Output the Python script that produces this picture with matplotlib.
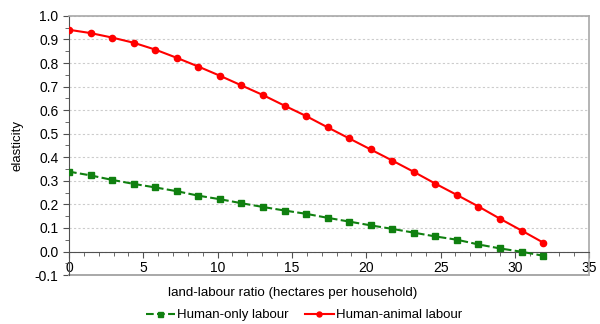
import matplotlib

matplotlib.use("Agg")

import matplotlib.pyplot as plt
import numpy as np
from matplotlib.ticker import MultipleLocator

plt.rcParams["font.family"] = ["Liberation Sans", "DejaVu Sans"]

# land-labour ratio (hectares per household), 23 evaluation points
land_ratio = [0.0, 1.45, 2.9, 4.35, 5.8, 7.25, 8.7, 10.15, 11.6, 13.05, 14.5, 15.95,
              17.4, 18.85, 20.3, 21.75, 23.2, 24.65, 26.1, 27.55, 29.0, 30.45, 31.9]

human_only = [0.339, 0.323, 0.304, 0.287, 0.272, 0.256, 0.237, 0.222, 0.205, 0.189,
              0.174, 0.160, 0.143, 0.127, 0.111, 0.096, 0.080, 0.064, 0.050, 0.030,
              0.013, -0.001, -0.018]

human_animal = [0.941, 0.927, 0.908, 0.886, 0.857, 0.822, 0.785, 0.746, 0.705, 0.664,
                0.619, 0.575, 0.527, 0.480, 0.433, 0.386, 0.338, 0.288, 0.240, 0.191,
                0.139, 0.089, 0.038]

GREEN = "#108010"
RED = "#ff0000"
BORDER = "#a8a8a8"

fig = plt.figure(figsize=(6.0, 3.24), dpi=100)
ax = fig.add_axes([0.115, 0.151, 0.867, 0.800])

ax.plot(land_ratio, human_only, color=GREEN, ls="--", lw=1.5, marker="s", ms=4.5,
        label="Human-only labour", zorder=3)
ax.plot(land_ratio, human_animal, color=RED, ls="-", lw=1.5, marker="o", ms=4.5,
        label="Human-animal labour", zorder=3)

ax.set_xlim(0, 35)
ax.set_ylim(-0.1, 1.0)
ax.xaxis.set_major_locator(MultipleLocator(5))
ax.xaxis.set_minor_locator(MultipleLocator(1))
ax.yaxis.set_major_locator(MultipleLocator(0.1))
ax.yaxis.set_minor_locator(MultipleLocator(0.05))
ax.yaxis.set_major_formatter(matplotlib.ticker.FormatStrFormatter("%.1f"))

ax.grid(axis="y", which="major", color="#cccccc", ls=(0, (2, 2)), lw=0.8)

# horizontal axis crosses at y = 0, plot area framed in grey
ax.spines["bottom"].set_position(("data", 0))
ax.spines["bottom"].set_color("#505050")
ax.spines["left"].set_color("#505050")
for side in ("top", "right"):
    ax.spines[side].set_color(BORDER)
    ax.spines[side].set_linewidth(1.2)
ax.axhline(-0.1, color=BORDER, lw=1.4, clip_on=False)

ax.tick_params(axis="both", which="both", direction="out", colors="#505050",
               labelsize=10, labelcolor="black")
ax.tick_params(axis="both", which="major", length=4)
ax.tick_params(axis="both", which="minor", length=3)
ax.tick_params(axis="x", pad=3)

ax.set_ylabel("elasticity", fontsize=9.5, labelpad=8)
fig.text(293 / 600, 1 - 293 / 324, "land-labour ratio (hectares per household)",
         ha="center", va="center", fontsize=9.6)

fig.legend(loc="center", bbox_to_anchor=(304 / 600, 1 - 315 / 324), ncol=2,
           frameon=False, fontsize=9.5, handlelength=2.2, handletextpad=0.2,
           columnspacing=1.2, borderaxespad=0, markerscale=0.8)

fig.savefig("out.png", dpi=100)
